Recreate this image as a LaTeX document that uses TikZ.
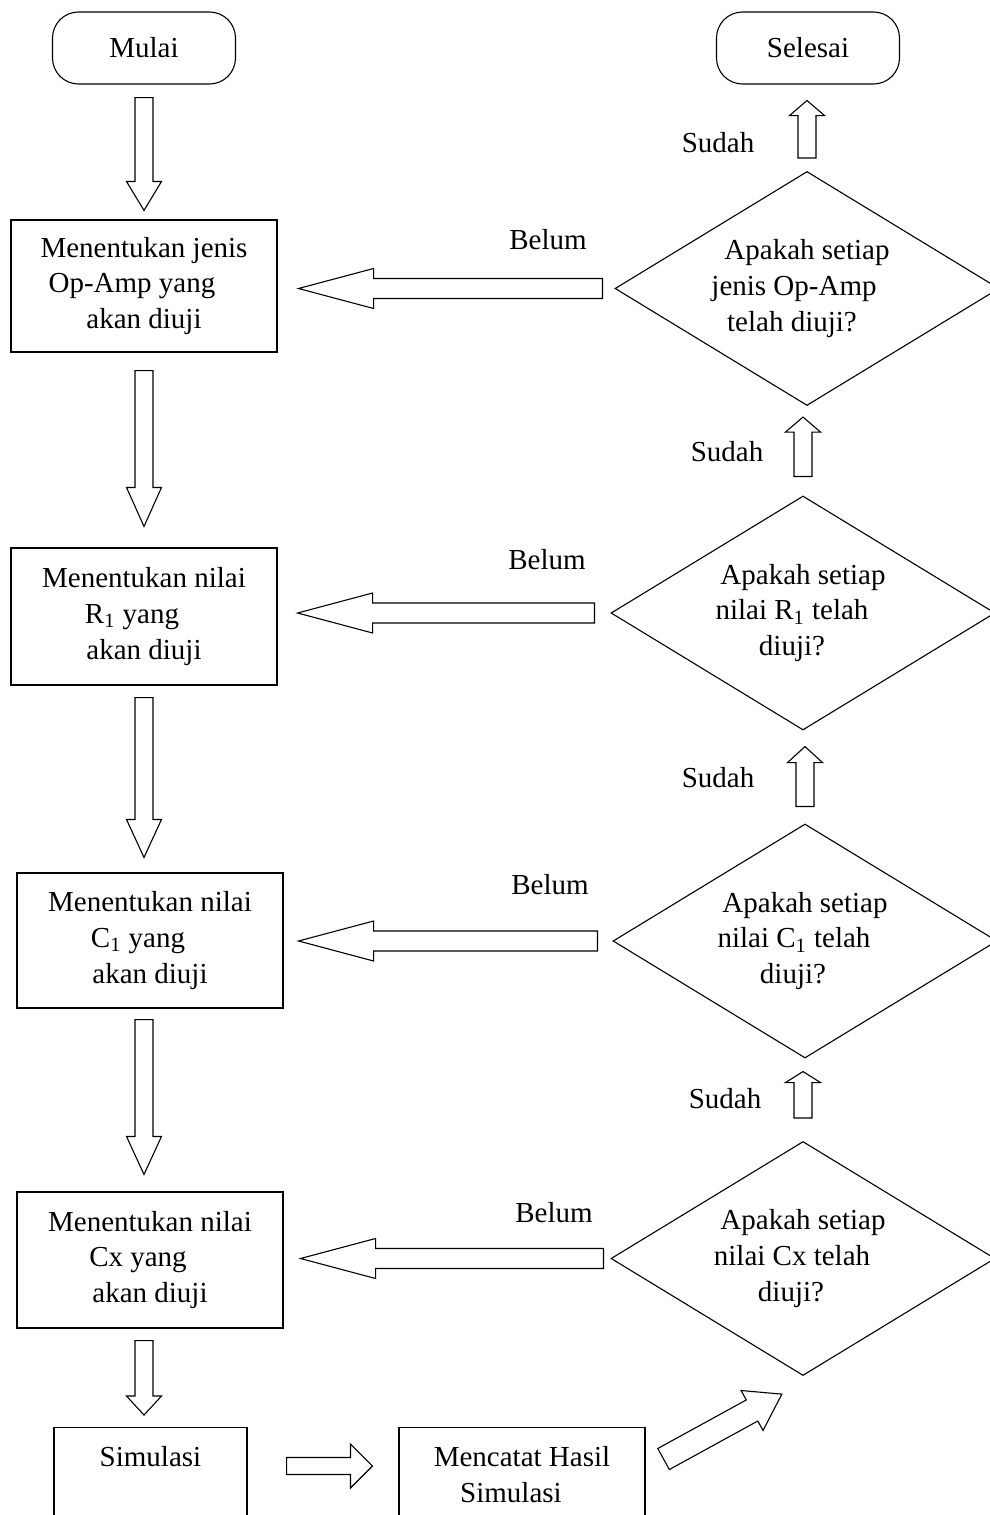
\documentclass[tikz,border=0pt]{standalone}
\usepackage{fontspec}
\setmainfont{Liberation Serif}
\usetikzlibrary{calc,shapes.geometric}

\begin{document}
\begin{tikzpicture}[x=0.5pt,y=-0.5pt,line width=0.55pt,
  font=\fontsize{14.5}{17.9}\selectfont,
  terminal/.style={draw,rounded corners=13pt,minimum width=91.5pt,minimum height=36pt},
  langkah/.style={draw,align=flush center,text width=125pt,inner sep=0pt,minimum width=133pt,minimum height=67.5pt},
  cek/.style={draw,diamond,aspect=1.64,align=flush center,text width=100pt,inner sep=0pt,minimum width=192pt,minimum height=117pt},
  shaftw/.store in=\shaftw,headw/.store in=\headw,shaftw=4.5pt,headw=8.75pt,
  fat/.style={to path={let \p1=(\tikztostart),\p2=(\tikztotarget),
    \n1={atan2(\y2-\y1,\x2-\x1)},\n2={veclen(\x2-\x1,\y2-\y1)} in
    {[shift={(\p1)},rotate=\n1] (0pt,-\shaftw) -- ({\n2-#1},-\shaftw) -- ({\n2-#1},-\headw) -- (\n2,0pt)
      -- ({\n2-#1},\headw) -- ({\n2-#1},\shaftw) -- (0pt,\shaftw) -- cycle}}}]
\useasboundingbox (0,0) rectangle (990,1515);
\clip (0,0) rectangle (990,1515);
\node[terminal] (mulai) at (144,48) {Mulai};
\node[terminal] (selesai) at (808,48) {Selesai};
\node[langkah,minimum height=66pt] (jenis) at (144,286) {Menentukan jenis\\Op-Amp yang\hspace*{12pt}\null\\akan diuji};
\node[langkah,minimum height=68.5pt] (r1) at (144,616.5) {Menentukan nilai\\R\textsubscript{1} yang\hspace*{12pt}\null\\akan diuji};
\node[langkah] (c1) at (150,940.5) {Menentukan nilai\\C\textsubscript{1} yang\hspace*{12pt}\null\\akan diuji};
\node[langkah,minimum height=68pt] (cx) at (150,1260) {Menentukan nilai\\Cx yang\hspace*{12pt}\null\\akan diuji};
\node[langkah,anchor=north,text width=96.5pt,minimum width=96.5pt,minimum height=0pt,inner ysep=9.6pt] (sim) at (150.5,1427) {Simulasi\\\rule{0pt}{60pt}};
\node[langkah,anchor=north,text width=123pt,minimum width=123pt,minimum height=0pt,inner ysep=9.6pt] (catat) at (522,1427) {Mencatat Hasil\\Simulasi\hspace*{11pt}\null\\\rule{0pt}{40pt}};
\node[cek] (d1) at (807,288.5) {Apakah setiap\\jenis Op-Amp\hspace*{13pt}\null\\telah diuji?\hspace*{15pt}\null};
\node[cek] (d2) at (803,613) {Apakah setiap\\nilai R\textsubscript{1} telah\hspace*{11pt}\null\\diuji?\hspace*{11pt}\null};
\node[cek] (d3) at (805,941) {Apakah setiap\\nilai C\textsubscript{1} telah\hspace*{11pt}\null\\diuji?\hspace*{12pt}\null};
\node[cek] (d4) at (803,1258.5) {Apakah setiap\\nilai Cx telah\hspace*{11pt}\null\\diuji?\hspace*{12pt}\null};
\node (belum1) at (548,240) {Belum};
\node (belum2) at (547,560) {Belum};
\node (belum3) at (550,885) {Belum};
\node (belum4) at (554,1213) {Belum};
\node (sudah1) at (718,143) {Sudah};
\node (sudah2) at (727,452) {Sudah};
\node (sudah3) at (718,778) {Sudah};
\node (sudah4) at (725,1099) {Sudah};
\draw[fat=14.5pt] ([yshift=-6.5pt]mulai.south) to ([yshift=4.5pt]jenis.north);
\draw[fat=19.5pt] ([yshift=-9pt]jenis.south) to ([yshift=10.5pt]r1.north);
\draw[fat=19pt] ([yshift=-6pt]r1.south) to ($(r1.south |- c1.north)+(0pt,7.5pt)$);
\draw[fat=19pt] ($(r1.south |- c1.south)+(0pt,-5.5pt)$) to ($(r1.south |- cx.north)+(0pt,8.5pt)$);
\draw[fat=9.5pt] ($(r1.south |- cx.south)+(0pt,-6pt)$) to ($(r1.south |- sim.north)+(0pt,6pt)$);
\draw[fat=11pt,shaftw=4.25pt,headw=11pt] ($(sim.north east)+(19.5pt,-19.5pt)$) to ($(catat.north west)+(-13pt,-19.5pt)$);
\draw[fat=17pt,shaftw=6pt,headw=11.4pt] ($(catat.north east)+(9pt,-16pt)$) to ($(d4.south)+(-10.5pt,-9pt)$);
\draw[fat=37.5pt,shaftw=5pt,headw=10pt] ($(d1.west)+(-6pt,0pt)$) to ($(d1.west -| jenis.east)+(10.5pt,0pt)$);
\draw[fat=37.5pt,shaftw=5pt,headw=10pt] ($(d2.west)+(-8pt,0pt)$) to ($(d2.west -| r1.east)+(10pt,0pt)$);
\draw[fat=37.5pt,shaftw=5pt,headw=10pt] ($(d3.west)+(-7.5pt,0pt)$) to ($(d3.west -| c1.east)+(7.5pt,0pt)$);
\draw[fat=37.5pt,shaftw=5pt,headw=10pt] ($(d4.west)+(-3.5pt,0pt)$) to ($(d4.west -| cx.east)+(8.5pt,0pt)$);
\draw[fat=7.5pt] ([yshift=6.5pt]d1.north) to ($(d1.north |- selesai.south)+(0pt,-8pt)$);
\draw[fat=7.5pt] ([yshift=9.5pt]d2.north) to ($(d2.north |- d1.south)+(0pt,-5.5pt)$);
\draw[fat=8pt] ([yshift=8.5pt]d3.north) to ($(d3.north |- d2.south)+(0pt,-8pt)$);
\draw[fat=5.5pt] ([yshift=11.5pt]d4.north) to ($(d4.north |- d3.south)+(0pt,-6.5pt)$);
\end{tikzpicture}
\end{document}
